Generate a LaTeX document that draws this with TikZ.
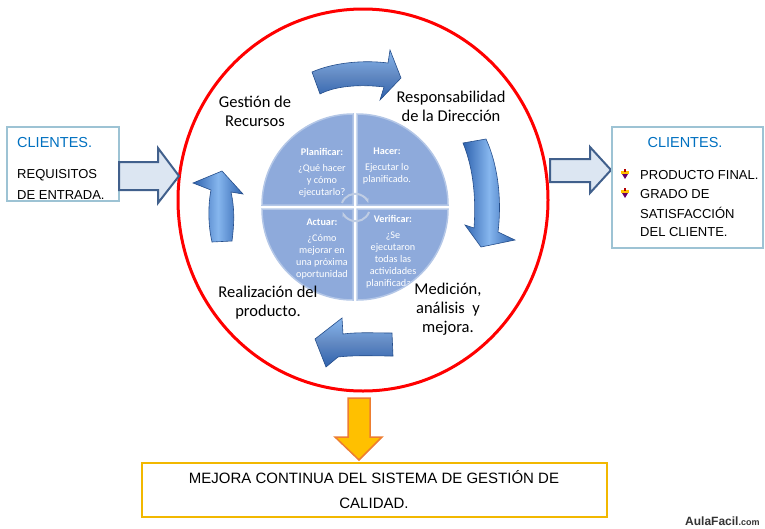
\documentclass[tikz,border=0pt]{standalone}
\usepackage{fontspec}
\setmainfont{Carlito}
\newfontfamily\comicf{Liberation Sans}
\usetikzlibrary{arrows.meta}
\definecolor{ringred}{HTML}{FF0000}
\definecolor{pieblue}{HTML}{8EAADB}
\definecolor{pierim}{HTML}{B4C7E7}
\definecolor{arrdark}{HTML}{2E62AE}
\definecolor{arrlight}{HTML}{86B6EE}
\definecolor{hollowfill}{HTML}{DCE6F2}
\definecolor{hollowline}{HTML}{41608C}
\definecolor{boxline}{HTML}{9DC3D4}
\definecolor{clientblue}{HTML}{0070C0}
\definecolor{goldline}{HTML}{F2B800}
\definecolor{orfill}{HTML}{FFC000}
\definecolor{orline}{HTML}{ED7D31}
\definecolor{cyclec}{HTML}{BFCDE4}
\tikzset{
  lbl/.style={align=center, inner sep=0pt, font=\fontsize{16.5}{19}\selectfont},
  qtxt/.style={align=center, inner sep=0pt, text=white, font=\fontsize{10.2}{12}\selectfont},
  quad/.style={fill=pieblue, draw=pierim, line width=1.5pt},
  blue3d/.style={left color=arrdark, right color=arrdark, middle color=arrlight, draw=arrdark!80!black, line width=0.6pt},
  hollow/.style={fill=hollowfill, draw=hollowline, line width=2pt, line join=miter},
  boxtxt/.style={inner sep=0pt, anchor=west, font=\comicf\fontsize{13}{15}\selectfont},
}
\begin{document}
\begin{tikzpicture}[x=1pt,y=-1pt]
\useasboundingbox (0,0) rectangle (765,528);

% red ring
\draw[ringred, line width=3pt] (363,200) ellipse [x radius=185, y radius=191];

% pie quadrants
\coordinate (pc) at (355,207);
\draw[quad] (357,205) -- ++(-90:91) arc[start angle=-90, end angle=0, radius=91] -- cycle;
\draw[quad] (357,209) -- ++(0:91) arc[start angle=0, end angle=90, radius=91] -- cycle;
\draw[quad] (353,209) -- ++(90:91) arc[start angle=90, end angle=180, radius=91] -- cycle;
\draw[quad] (353,205) -- ++(180:91) arc[start angle=180, end angle=270, radius=91] -- cycle;

% central cycle arrows
\draw[cyclec, line width=2pt, -{Stealth[length=5pt]}] (342,203) arc[start angle=200, end angle=340, radius=14];
\draw[cyclec, line width=2pt, -{Stealth[length=5pt]}] (369,212) arc[start angle=20, end angle=160, radius=14];

% quadrant texts
\node[qtxt] (plan) at (322,173) {\textbf{Planificar:}\\[4pt]¿Qué hacer\\y cómo\\ejecutarlo?};
\node[qtxt] (hacer) at (387,166) {\textbf{Hacer:}\\[4pt]Ejecutar lo\\planificado.};
\node[qtxt] (actuar) at (322,249) {\textbf{Actuar:}\\[4pt]¿Cómo\\mejorar en\\una próxima\\oportunidad};
\begin{scope}
\clip (357,209) -- ++(0:90) arc[start angle=0, end angle=90, radius=90] -- cycle;
\node[qtxt] (verif) at (393,252) {\textbf{Verificar:}\\[4pt]¿Se\\ejecutaron\\todas las\\actividades\\planificadas?};
\end{scope}

% outer labels
\node[lbl] (gr) at (255,111) {Gestión de\\Recursos};
\node[lbl] (rd) at (451,106) {Responsabilidad\\de la Dirección};
\node[lbl] (ma) at (448,309) {Medición,\\análisis\ \ y\\mejora.};
\node[lbl] (rp) at (268,303) {Realización del\\producto.};

% blue 3D curved arrows
\path[blue3d, top color=arrlight, bottom color=arrdark, middle color=arrdark!75!white]
  (312,72) .. controls (335,62) and (365,60) .. (388,63) -- (390,50) -- (401,78) -- (380,100) -- (384,87)
  .. controls (360,84) and (335,86) .. (320,94) -- cycle;
\path[blue3d]
  (463,143) -- (486,139) .. controls (498,165) and (502,200) .. (498,232) -- (515,240) -- (481,247) -- (465,225) -- (474,228)
  .. controls (476,200) and (474,170) .. (463,143) -- cycle;
\path[blue3d, top color=arrlight, bottom color=arrdark, middle color=arrdark!75!white]
  (392,333) .. controls (375,333) and (358,332) .. (343,334) -- (342,318) -- (315,339) -- (326,367) -- (338,357)
  .. controls (355,355) and (375,356) .. (393,356) -- cycle;
\path[blue3d]
  (212,242) .. controls (208,225) and (208,205) .. (211,190) -- (193,183) -- (222,171) -- (243,194) -- (231,192)
  .. controls (235,210) and (234,225) .. (232,241) -- cycle;

% left box
\node[draw=boxline, line width=1.2pt, minimum width=112pt, minimum height=74pt, inner sep=0pt] (lbox) at (63,164) {};
\node[boxtxt, text=clientblue, font=\comicf\fontsize{14.5}{16}\selectfont] (lc) at (17,143) {CLIENTES.};
\node[boxtxt] (lr1) at (17,175) {REQUISITOS};
\node[boxtxt] (lr2) at (17,195) {DE ENTRADA.};

% hollow arrows
\path[hollow] (119,162) -- (158,162) -- (158,148) -- (179,176) -- (158,203) -- (158,190) -- (119,190) -- cycle;
\path[hollow] (550,159) -- (590,159) -- (590,147) -- (611,170) -- (590,193) -- (590,182) -- (550,182) -- cycle;

% right box
\node[draw=boxline, line width=1.2pt, minimum width=151pt, minimum height=121pt, inner sep=0pt] (rbox) at (687.5,187.5) {};
\node[inner sep=0pt, text=clientblue, font=\comicf\fontsize{14.5}{16}\selectfont] (rc) at (685,143) {CLIENTES.};
\node[boxtxt] (rt1) at (640,175) {PRODUCTO FINAL.};
\node[boxtxt] (rt2) at (640,194) {GRADO DE};
\node[boxtxt] (rt3) at (640,213) {SATISFACCIÓN};
\node[boxtxt] (rt4) at (640,232) {DEL CLIENTE.};
\foreach \yy in {175,194}{
  \fill[orfill] (621,\yy-4) rectangle (629,\yy-1);
  \fill[violet!80!black] (622,\yy-1) -- (628,\yy-1) -- (625,\yy+4) -- cycle;
  \fill[red!70!black] (624,\yy-6) rectangle (626,\yy-3);
}

% orange arrow
\path[fill=orfill, draw=orline, line width=1.5pt, line join=miter]
  (348,398) -- (370,398) -- (370,437) -- (382,437) -- (359,460) -- (335,437) -- (348,437) -- cycle;

% bottom box
\node[draw=goldline, line width=1.2pt, minimum width=465pt, minimum height=54pt, inner sep=0pt] (bbox) at (374.5,490) {};
\node[inner sep=0pt, align=center, font=\comicf\fontsize{15}{25}\selectfont] (btxt) at (374,490) {MEJORA CONTINUA DEL SISTEMA DE GESTIÓN DE\\CALIDAD.};

% logo
\node[inner sep=0pt, anchor=west, text=black!80, font=\comicf\bfseries\fontsize{12}{14}\selectfont] (logo) at (685,521) {AulaFacil{\fontsize{9}{10}\selectfont.com}};
\end{tikzpicture}
\end{document}
